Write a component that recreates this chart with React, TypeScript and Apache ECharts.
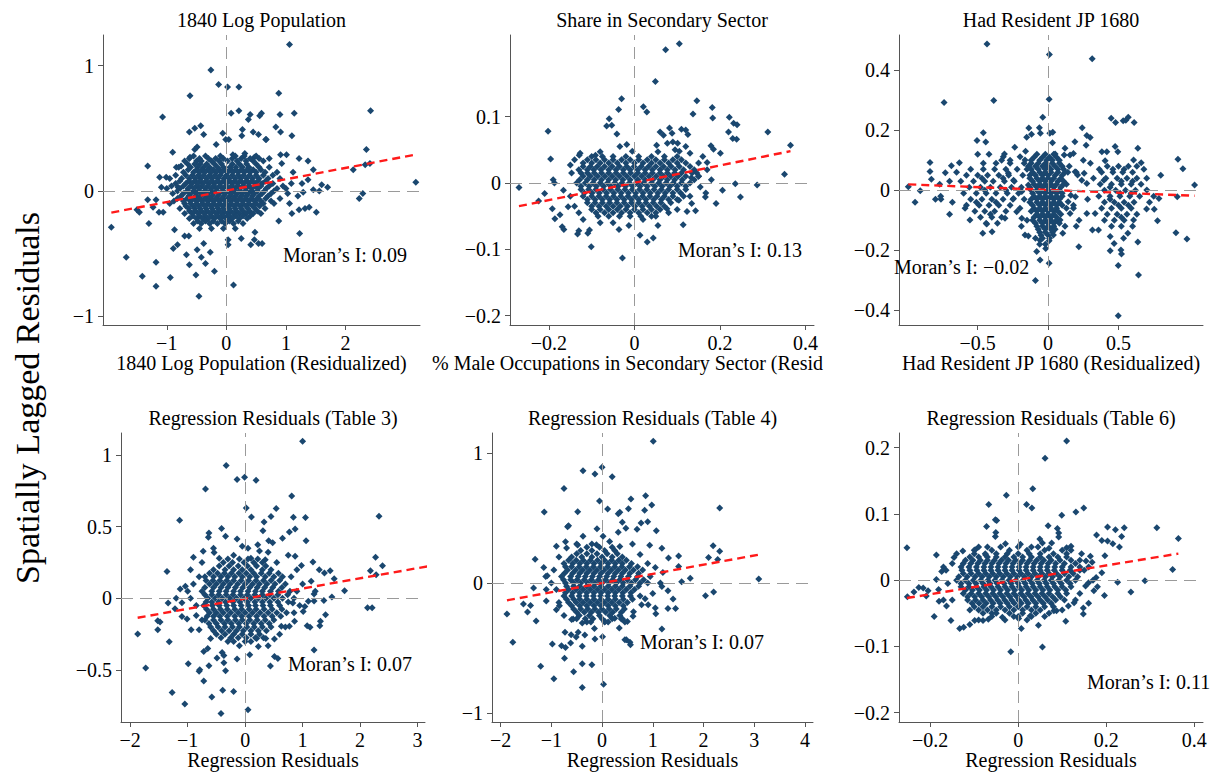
import React, { useEffect, useRef } from 'react';
import * as echarts from 'echarts';

type Pt = [number, number];
type Row = [number, number[]];

// ---------------- Panel 1: 1840 Log Population ----------------
const P1_OUT: Pt[] = [[1.06,1.17],[-0.26,0.965],[-0.13,0.85],[0.02,0.83],[0.21,0.83],[0.88,0.78],[-0.61,0.76],[2.42,0.64],[-1.07,0.59],[0.08,0.62],[0.21,0.64],[0.40,0.61],[0.56,0.60],[0.59,0.62],[0.90,0.61],[1.14,0.62],[0.37,0.57],[-0.43,0.52],[-0.53,0.50],[-0.62,0.47],[-0.06,0.46],[-0.38,0.45],[0.27,0.49],[0.26,0.44],[0.45,0.47],[0.83,0.51],[0.91,0.47],[1.10,0.44],[0.04,0.41],[0.67,0.41],[-0.90,0.31],[-1.32,0.20],[2.35,0.33],[2.13,0.17],[2.41,0.22],[2.33,0.21],[3.18,0.07],[1.70,0.03],[1.60,0.05],[1.46,0.01],[1.56,0.0],[1.37,0.24],[1.46,0.17],[1.22,0.26],[2.29,-0.02],[2.23,-0.06],[-1.93,-0.29],[-1.68,-0.53],[-1.41,-0.68],[-1.18,-0.57],[-1.18,-0.76],[-0.94,-0.69],[-0.46,-0.84],[-0.51,-0.67],[-0.20,-0.64],[0.12,-0.75],[-0.35,-0.58],[-0.62,-0.59],[-0.67,-0.51],[-0.89,-0.46],[-0.82,-0.43],[-0.49,-0.47],[-0.42,-0.53],[-0.27,-0.49],[-0.38,-0.42],[-0.70,-0.36],[-0.63,-0.36],[-0.87,-0.31],[-1.30,-0.26],[-1.46,-0.17],[-1.50,-0.15],[1.51,-0.17],[1.23,-0.34],[1.39,-0.13],[0.88,-0.24],[0.03,-0.39],[0.03,-0.43],[0.25,-0.38],[0.41,-0.43],[0.48,-0.33],[0.47,-0.39],[0.54,-0.42],[0.60,-0.42],[1.22,-0.15],[1.32,-0.14],[1.10,-0.18],[1.29,-0.01],[1.20,-0.04],[1.03,-0.02],[1.06,-0.10],[1.09,0.06],[1.27,0.06],[1.37,0.09],[1.12,0.15],[0.93,0.22],[1.01,0.29],[0.91,0.29],[0.72,0.26],[0.66,0.41],[0.54,0.45],[0.31,0.30],[0.47,0.27],[-1.12,0.11],[-1.01,0.11],[-1.09,0.03],[-1.13,-0.17],[-1.06,-0.17],[-0.81,0.03],[-0.84,0.19],[-0.76,0.20],[-0.61,0.27],[-0.53,0.33],[-0.49,0.35],[-0.17,0.37],[-0.01,0.41],[0.11,0.29],[-1.18,-0.07],[-1.32,-0.07],[-1.23,-0.13]];
const P1_CORE: Row[] = [
  [0.28, [-0.55,-0.35,-0.1,0.15,0.3,0.5]],
  [0.26, [-0.62,-0.45,-0.3,-0.18,-0.05,0.1,0.25,0.4,0.55]],
  [0.24, [-0.7,-0.5,-0.42,-0.25,-0.12,0.02,0.18,0.33,0.45,0.62]],
  [0.215, [-0.65,-0.53,-0.44,-0.33,-0.2,-0.08,0.1,0.22,0.34,0.5]],
  [0.19, [-0.8,-0.6,-0.48,-0.38,-0.28,-0.15,-0.05,0.06,0.16,0.27,0.38,0.55,0.72]],
  [0.17, [-0.64,-0.5,-0.41,-0.31,-0.22,-0.12,-0.02,0.08,0.16,0.25,0.35,0.45,0.58]],
  [0.15, [-0.72,-0.55,-0.45,-0.36,-0.26,-0.17,-0.08,0.02,0.11,0.2,0.3,0.4,0.5,0.65,0.85]],
  [0.125, [-0.85,-0.68,-0.57,-0.47,-0.38,-0.28,-0.19,-0.1,0.0,0.1,0.2,0.29,0.39,0.5,0.62,0.78]],
  [0.10, [-0.95,-0.75,-0.62,-0.52,-0.43,-0.33,-0.24,-0.14,-0.04,0.05,0.15,0.24,0.34,0.44,0.55,0.7,0.9]],
  [0.08, [-0.78,-0.63,-0.53,-0.44,-0.34,-0.25,-0.15,-0.05,0.05,0.14,0.24,0.34,0.43,0.53,0.66]],
  [0.06, [-0.85,-0.68,-0.58,-0.48,-0.39,-0.29,-0.2,-0.1,0.0,0.1,0.19,0.29,0.38,0.48,0.6,0.78]],
  [0.04, [-0.92,-0.72,-0.6,-0.5,-0.41,-0.31,-0.21,-0.11,-0.01,0.09,0.19,0.28,0.38,0.48,0.58,0.72,0.95]],
  [0.02, [-1.0,-0.78,-0.64,-0.54,-0.45,-0.35,-0.25,-0.16,-0.06,0.04,0.14,0.23,0.33,0.43,0.53,0.67,0.85,1.0]],
  [0.0, [-0.82,-0.66,-0.55,-0.46,-0.36,-0.27,-0.17,-0.07,0.03,0.13,0.22,0.32,0.42,0.52,0.64,0.8]],
  [-0.02, [-0.9,-0.72,-0.6,-0.5,-0.41,-0.31,-0.22,-0.12,-0.02,0.08,0.18,0.27,0.37,0.47,0.6,0.75]],
  [-0.04, [-0.76,-0.63,-0.52,-0.43,-0.33,-0.24,-0.14,-0.04,0.06,0.15,0.25,0.34,0.44,0.55,0.7]],
  [-0.06, [-0.82,-0.66,-0.55,-0.46,-0.36,-0.27,-0.17,-0.07,0.03,0.12,0.22,0.32,0.42,0.52,0.66,0.9]],
  [-0.08, [-0.88,-0.72,-0.6,-0.5,-0.41,-0.31,-0.22,-0.12,-0.02,0.07,0.17,0.27,0.37,0.47,0.58,0.75]],
  [-0.10, [-0.95,-0.7,-0.6,-0.5,-0.4,-0.31,-0.21,-0.11,-0.01,0.08,0.18,0.28,0.38,0.5,0.62,0.8]],
  [-0.12, [-0.68,-0.56,-0.46,-0.36,-0.26,-0.16,-0.06,0.04,0.13,0.23,0.33,0.44,0.56]],
  [-0.14, [-0.78,-0.63,-0.53,-0.44,-0.34,-0.24,-0.14,-0.05,0.05,0.15,0.25,0.36,0.48,0.65]],
  [-0.16, [-0.62,-0.52,-0.42,-0.32,-0.22,-0.12,-0.03,0.07,0.17,0.28,0.39,0.52]],
  [-0.18, [-0.7,-0.57,-0.47,-0.37,-0.27,-0.17,-0.08,0.02,0.12,0.22,0.33,0.45,0.58]],
  [-0.20, [-0.56,-0.45,-0.35,-0.25,-0.15,-0.05,0.05,0.16,0.28,0.4]],
  [-0.22, [-0.62,-0.5,-0.4,-0.3,-0.2,-0.1,0.0,0.1,0.22,0.35]],
  [-0.24, [-0.48,-0.35,-0.22,-0.08,0.05,0.2]],
  [-0.26, [-0.55,-0.42,-0.28,-0.15,-0.02,0.12,0.28]],
  [-0.30, [-0.45,-0.25,-0.05,0.15]],
];
const P1_FIT: Pt[] = [[-1.93,-0.173],[3.18,0.291]];
const P1_XTICKS = [-1, 0, 1, 2];
const P1_YTICKS = [-1, 0, 1];

// ---------------- Panel 2: Share in Secondary Sector ----------------
const P2_OUT: Pt[] = [[0.105,0.210],[0.073,0.201],[0.049,0.153],[-0.030,0.127],[-0.037,0.111],[0.021,0.115],[0.029,0.107],[0.146,0.124],[0.137,0.104],[0.182,0.114],[0.183,0.098],[0.222,0.099],[0.232,0.090],[0.240,0.088],[0.220,0.077],[0.230,0.067],[0.239,0.066],[0.312,0.077],[0.365,0.057],[0.351,0.013],[0.287,-0.003],[0.236,-0.001],[0.248,-0.021],[0.206,-0.011],[0.191,-0.031],[-0.202,0.078],[-0.196,0.036],[-0.270,-0.007],[-0.210,-0.016],[-0.224,-0.027],[-0.190,0.005],[-0.187,0.0],[-0.192,-0.039],[-0.186,-0.054],[-0.174,-0.048],[-0.169,-0.066],[-0.165,-0.070],[-0.133,-0.077],[-0.130,-0.072],[-0.109,-0.076],[-0.101,-0.096],[-0.105,-0.071],[-0.028,-0.113],[-0.036,-0.070],[-0.013,-0.064],[0.013,-0.079],[0.030,-0.089],[0.044,-0.083],[0.055,-0.064],[0.114,-0.063],[0.076,-0.039],[-0.065,0.086],[-0.053,0.087],[-0.041,0.074],[-0.059,0.097],[0.060,0.077],[0.068,0.072],[0.082,0.083],[0.088,0.075],[0.110,0.081],[0.120,0.080],[0.125,0.073],[0.101,0.060],[0.077,0.060],[0.133,0.008],[0.146,0.015],[0.170,0.031],[0.185,0.051],[0.179,0.056],[0.201,0.045],[0.154,-0.006],[0.167,-0.015],[0.134,-0.031],[0.143,-0.042],[0.123,-0.043],[0.104,-0.026],[0.166,-0.021],[-0.150,0.027],[-0.129,0.042],[-0.127,0.045],[-0.091,0.042],[-0.147,0.015],[-0.166,-0.011],[-0.155,-0.036],[-0.080,0.047],[-0.034,0.055],[-0.018,0.058],[-0.005,0.048],[0.055,0.047],[0.052,0.057],
  [0.13,0.045],[0.15,0.03],[0.16,0.04],[0.12,0.055],[0.095,0.05],[0.09,0.062],[0.105,0.048],[-0.14,0.035],[-0.15,-0.02],[-0.14,-0.035],[-0.13,-0.045],[-0.12,-0.055],[-0.08,-0.06],[-0.05,-0.06],[0.02,-0.055],[0.05,-0.05],[0.08,-0.045],[0.1,-0.04],[0.13,-0.02],[0.15,0.01],[0.17,0.02],[0.18,0.005]];
const P2_CORE: Row[] = [
  [0.040, [-0.10,-0.075,-0.05,-0.02,0.01,0.04,0.07,0.10]],
  [0.035, [-0.11,-0.09,-0.07,-0.05,-0.03,-0.01,0.01,0.03,0.05,0.07,0.09,0.11]],
  [0.030, [-0.12,-0.10,-0.08,-0.06,-0.04,-0.02,0.0,0.02,0.04,0.06,0.08,0.10,0.12]],
  [0.025, [-0.12,-0.103,-0.087,-0.07,-0.052,-0.035,-0.018,-0.001,0.016,0.033,0.05,0.068,0.086,0.105,0.13]],
  [0.020, [-0.13,-0.11,-0.095,-0.078,-0.06,-0.043,-0.026,-0.01,0.008,0.025,0.042,0.06,0.077,0.095,0.115,0.14]],
  [0.015, [-0.125,-0.11,-0.094,-0.077,-0.06,-0.043,-0.026,-0.009,0.008,0.025,0.042,0.06,0.077,0.094,0.11,0.135]],
  [0.010, [-0.12,-0.103,-0.086,-0.069,-0.052,-0.035,-0.018,0.0,0.017,0.034,0.051,0.068,0.085,0.102,0.12,0.15]],
  [0.005, [-0.128,-0.11,-0.094,-0.077,-0.06,-0.044,-0.027,-0.01,0.008,0.025,0.043,0.06,0.077,0.094,0.112,0.14]],
  [0.000, [-0.135,-0.115,-0.097,-0.08,-0.063,-0.046,-0.029,-0.012,0.005,0.022,0.04,0.057,0.074,0.091,0.11,0.13]],
  [-0.005, [-0.125,-0.106,-0.089,-0.072,-0.055,-0.038,-0.021,-0.004,0.013,0.03,0.048,0.065,0.083,0.1,0.12]],
  [-0.010, [-0.125,-0.107,-0.09,-0.073,-0.056,-0.039,-0.022,-0.005,0.012,0.029,0.046,0.063,0.08,0.1,0.12]],
  [-0.015, [-0.117,-0.099,-0.082,-0.065,-0.048,-0.031,-0.014,0.003,0.02,0.037,0.055,0.072,0.09,0.108]],
  [-0.020, [-0.12,-0.1,-0.083,-0.066,-0.049,-0.032,-0.015,0.002,0.019,0.036,0.053,0.07,0.09,0.115]],
  [-0.025, [-0.11,-0.092,-0.075,-0.058,-0.041,-0.024,-0.007,0.01,0.027,0.045,0.063,0.08,0.1]],
  [-0.030, [-0.11,-0.092,-0.075,-0.058,-0.041,-0.024,-0.007,0.01,0.027,0.044,0.062,0.085]],
  [-0.035, [-0.1,-0.083,-0.066,-0.05,-0.033,-0.016,0.001,0.018,0.035,0.052,0.07]],
  [-0.040, [-0.1,-0.08,-0.06,-0.04,-0.02,0.0,0.02,0.04,0.06]],
  [-0.045, [-0.09,-0.07,-0.05,-0.03,-0.01,0.01,0.03,0.05]],
  [-0.050, [-0.085,-0.06,-0.035,-0.01,0.015,0.04]],
];
const P2_FIT: Pt[] = [[-0.270,-0.035],[0.365,0.048]];
const P2_XTICKS = [-0.2, 0, 0.2, 0.4];
const P2_YTICKS = [-0.2, -0.1, 0, 0.1];

// ---------------- Panel 3: Had Resident JP 1680 ----------------
const P3_OUT: Pt[] = [[-0.434,0.488],[0.009,0.453],[0.313,0.439],[0.007,0.304],[-0.386,0.300],[-0.739,0.293],[-0.038,0.244],[0.448,0.240],[0.479,0.226],[0.533,0.232],[0.552,0.234],[0.569,0.244],[0.611,0.226],[0.242,0.209],[0.275,0.183],[0.299,0.176],[0.190,0.162],[-0.137,0.208],[-0.062,0.209],[-0.055,0.190],[0.012,0.190],[0.033,0.194],[-0.118,0.187],[-0.152,0.177],[0.031,0.159],[-0.460,0.192],[-0.505,0.166],[-0.443,0.161],[-0.237,0.144],[-0.310,0.121],[-0.318,0.112],[-0.839,0.093],[-0.839,0.063],[-0.829,0.037],[-0.730,0.059],[-0.687,0.082],[-0.630,0.092],[-0.993,0.012],[-0.908,-0.001],[-0.945,-0.040],[-0.763,-0.020],[-0.761,-0.030],[-0.555,-0.099],[-0.464,-0.143],[-0.398,-0.138],[-0.436,-0.112],[-0.590,-0.060],[0.922,0.104],[0.957,0.072],[1.040,0.018],[0.917,-0.021],[0.908,-0.141],[0.986,-0.162],[0.777,-0.101],[0.754,-0.063],[0.699,-0.062],[0.787,-0.027],[0.701,0.001],[0.661,0.092],[0.637,0.140],[0.607,0.101],[0.405,0.099],[0.382,0.129],[0.417,0.129],[0.476,0.146],[0.495,0.129],[0.642,-0.282],[0.498,-0.418],[0.498,-0.251],[0.517,-0.199],[0.521,-0.212],[0.441,-0.201],[0.441,-0.154],[0.469,-0.177],[0.536,-0.160],[0.566,-0.143],[0.637,-0.172],[0.607,-0.099],[0.358,-0.132],[0.218,-0.188],[0.275,-0.077],[0.334,-0.077],[0.315,-0.132],[-0.090,-0.301],[0.007,-0.243],[-0.057,-0.232],[-0.081,-0.204],[-0.017,-0.194],[0.007,-0.168],[-0.057,-0.166],[-0.164,-0.149],[-0.140,-0.152],[0.104,-0.143],[0.038,-0.149],[0.085,-0.099],[0.156,-0.077],[0.180,-0.060],[-0.187,-0.093],[-0.223,-0.071],[-0.306,-0.093],[-0.246,-0.027],[-0.246,0.034],[-0.282,0.057],[-0.270,0.090],[-0.199,0.112],[-0.164,0.101],[0.156,0.118],[0.180,0.123],[0.114,0.118],[0.050,0.121],[0.192,0.062],[0.256,0.057],[0.239,0.034],[0.209,0.051],[0.275,0.023],[0.322,0.040],[0.363,0.070],[0.396,0.034],[0.194,-0.021],[0.142,-0.038],[0.161,-0.016],[-0.140,0.018],[-0.187,-0.004],
  [0.15,0.08],[0.2,0.06],[0.25,0.1],[0.18,-0.05],[0.22,-0.1],[0.28,-0.03],[0.3,0.09],[0.13,0.02],[0.2,-0.12],[0.27,0.15],[-0.18,0.05],[-0.2,-0.06],[-0.17,0.09],[-0.19,-0.12],[-0.7,0.03],[-0.68,-0.04],[-0.65,0.06],[-0.7,-0.08],[0.7,0.04],[0.72,-0.04],[0.68,0.07],[0.75,-0.02],[0.8,0.05],[-0.8,-0.03],[-0.77,0.02],
  [-0.16,0.13],[0.12,0.14],[-0.15,-0.1],[0.12,-0.12],[-0.17,-0.03],[0.14,0.06],[-0.15,0.07],[0.13,-0.06]];
const P3_CORE: Row[] = [
  [0.12, [-0.08,-0.02,0.04, -0.5,-0.42]],
  [0.11, [-0.1,-0.04,0.01,0.06]],
  [0.10, [-0.12,-0.06,-0.01,0.03,0.08, -0.33,-0.27]],
  [0.09, [-0.12,-0.07,-0.02,0.03,0.08, -0.46,-0.37]],
  [0.08, [-0.14,-0.09,-0.04,0.0,0.05,0.1, 0.42,0.5,0.57,0.63]],
  [0.07, [-0.12,-0.07,-0.02,0.02,0.07,0.11, -0.55,-0.46,-0.38,-0.30,-0.22, 0.46,0.54]],
  [0.06, [-0.11,-0.06,-0.02,0.02,0.07,0.12, 0.38,0.46,0.53,0.60]],
  [0.05, [-0.13,-0.09,-0.04,0.0,0.05,0.1, -0.58,-0.50,-0.43,-0.35,-0.28]],
  [0.04, [-0.13,-0.08,-0.04,0.0,0.04,0.09, 0.41,0.49,0.56,0.63, -0.47,-0.32]],
  [0.03, [-0.11,-0.06,-0.02,0.02,0.07,0.11, -0.62,-0.53,-0.45,-0.39,-0.31,-0.24, 0.52,0.6]],
  [0.02, [-0.10,-0.06,-0.02,0.02,0.06,0.11, 0.37,0.45,0.52,0.59,0.66]],
  [0.01, [-0.13,-0.08,-0.04,0.0,0.04,0.09, -0.56,-0.48,-0.41,-0.34,-0.26,-0.19, 0.44]],
  [0.00, [-0.12,-0.08,-0.04,0.0,0.04,0.08, 0.40,0.48,0.55,0.62, -0.45,-0.3]],
  [-0.01, [-0.11,-0.06,-0.02,0.02,0.06,0.1, -0.60,-0.51,-0.44,-0.37,-0.29,-0.21, 0.51,0.59]],
  [-0.02, [-0.10,-0.06,-0.02,0.02,0.06,0.10, 0.36,0.44,0.51,0.58,0.65]],
  [-0.03, [-0.12,-0.08,-0.04,0.0,0.04,0.08, -0.55,-0.47,-0.40,-0.32,-0.25, 0.44]],
  [-0.04, [-0.13,-0.08,-0.04,0.0,0.04,0.08, 0.40,0.47,0.54,0.61, -0.51,-0.37]],
  [-0.05, [-0.11,-0.06,-0.02,0.02,0.06,0.1, -0.58,-0.49,-0.42,-0.35,-0.27, 0.5,0.57]],
  [-0.06, [-0.10,-0.06,-0.02,0.02,0.06, 0.38,0.45,0.52,0.59]],
  [-0.07, [-0.12,-0.08,-0.04,0.0,0.04,0.07, -0.52,-0.45,-0.38,-0.30]],
  [-0.08, [-0.08,-0.04,0.0,0.04,0.09, 0.42,0.49,0.56,0.63, -0.41]],
  [-0.09, [-0.1,-0.06,-0.02,0.02,0.06, -0.48,-0.40,-0.33, 0.52]],
  [-0.10, [-0.11,-0.06,-0.02,0.02,0.06, 0.40,0.47,0.54]],
  [-0.11, [-0.09,-0.04,0.0,0.04,0.08, -0.44,-0.36]],
  [-0.12, [-0.08,-0.04,0.0,0.04, 0.45,0.52,0.60]],
  [-0.13, [-0.07,-0.02,0.02,0.05]],
  [-0.14, [-0.06,-0.02,0.03]],
  [-0.15, [-0.05,0.0]],
  [-0.16, [-0.09,-0.04,0.01]],
  [-0.18, [-0.06,-0.02]],
];
const P3_FIT: Pt[] = [[-0.993,0.020],[1.04,-0.018]];
const P3_XTICKS = [-0.5, 0, 0.5];
const P3_YTICKS = [-0.4, -0.2, 0, 0.2, 0.4];

// ---------------- Panel 4: Regression Residuals (Table 3) ----------------
const P4_OUT: Pt[] = [[1.0,1.095],[-0.33,0.926],[-0.14,0.828],[-0.01,0.844],[0.19,0.823],[-0.69,0.763],[0.81,0.714],[2.33,0.572],[-1.14,0.544],[0.02,0.630],[0.54,0.626],[0.11,0.567],[0.45,0.570],[0.84,0.565],[1.05,0.563],[0.33,0.533],[0.31,0.472],[-0.41,0.488],[-0.34,0.433],[-0.63,0.456],[-0.64,0.426],[-0.14,0.414],[0.87,0.484],[0.77,0.463],[0.65,0.419],[0.41,0.402],[0.48,0.388],[1.06,0.402],[-0.05,0.363],[0.22,0.374],[-0.73,0.328],[-0.90,0.286],[-0.54,0.319],[0.87,0.293],[0.40,0.321],[-1.36,0.188],[1.18,0.253],[0.98,0.230],[1.29,0.200],[1.48,0.193],[1.38,0.177],[2.27,0.286],[2.18,0.193],[2.39,0.228],[2.28,0.165],[1.55,0.137],[1.73,0.053],[3.17,0.030],[1.51,0.009],[2.13,-0.065],[2.21,-0.065],[1.22,0.049],[1.37,-0.014],[1.20,-0.019],[1.40,-0.114],[1.08,-0.191],[1.13,-0.202],[1.30,-0.191],[1.31,-0.160],[1.20,-0.360],[-1.87,-0.249],[-1.73,-0.486],[-1.52,-0.219],[-1.52,-0.156],[-1.48,-0.165],[-1.32,-0.302],[-1.34,-0.033],[-1.13,0.065],[-1.04,0.084],[-1.22,-0.072],[-1.27,-0.656],[-1.05,-0.737],[-0.99,-0.456],[-0.80,-0.509],[-0.79,-0.498],[-0.72,-0.577],[-0.63,-0.470],[-0.58,-0.688],[-0.42,-0.802],[-0.39,-0.640],[-0.20,-0.649],[0.05,-0.777],[-0.40,-0.377],[-0.37,-0.398],[-0.49,-0.416],[-0.37,-0.449],[-0.34,-0.505],[-0.14,-0.423],[0.08,-0.393],[0.23,-0.335],[0.44,-0.472],[0.51,-0.405],[0.57,-0.419],[0.36,-0.279],[0.51,-0.284],[-0.72,-0.370],[-0.94,-0.219],[-0.80,-0.219],[-1.10,-0.126],[-1.01,-0.144],[0.63,-0.195],[0.77,-0.195],[0.86,-0.160],[1.01,-0.091],[1.04,-0.056],[0.83,-0.033],
  [-0.9,0.1],[-0.85,-0.05],[-0.95,0.0],[-0.8,0.15],[-0.75,-0.15],[-0.85,-0.12],[0.9,0.05],[0.95,-0.05],[0.8,0.15],[0.85,-0.1],[1.0,0.1],[0.9,0.2],[-0.45,0.28],[-0.2,0.3],[0.1,0.28],[0.35,0.27],[0.25,0.33],[-0.3,-0.3],[0.0,-0.3],[0.2,-0.28],[-0.6,-0.28],[0.6,-0.25],[-1.0,0.05],[-1.1,-0.03],[1.1,-0.02],[1.15,0.12],[-0.55,0.35],[0.05,0.35],[0.55,0.25],[0.7,-0.2],[-0.75,0.25],[-0.65,-0.35],[0.4,-0.33],[-0.1,-0.33],[1.2,0.03],[-1.2,0.0],[-0.95,0.2],[0.75,0.3]];
const P4_CORE: Row[] = [
  [0.275, [-0.3,-0.1,0.05,0.22]],
  [0.25, [-0.38,-0.22,-0.02,0.15,0.3]],
  [0.225, [-0.45,-0.28,-0.12,0.04,0.2,0.36]],
  [0.20, [-0.55,-0.35,-0.2,-0.05,0.1,0.3,0.45]],
  [0.175, [-0.62,-0.48,-0.36,-0.24,-0.11,0.02,0.15,0.28,0.42,0.58]],
  [0.15, [-0.7,-0.55,-0.42,-0.3,-0.18,-0.05,0.08,0.2,0.35,0.5,0.65]],
  [0.125, [-0.68,-0.56,-0.44,-0.32,-0.2,-0.07,0.06,0.19,0.32,0.45,0.6]],
  [0.10, [-0.62,-0.5,-0.38,-0.26,-0.13,0.0,0.13,0.25,0.38,0.52,0.7]],
  [0.075, [-0.7,-0.55,-0.42,-0.3,-0.17,-0.04,0.08,0.21,0.34,0.48,0.64]],
  [0.05, [-0.75,-0.58,-0.45,-0.33,-0.2,-0.08,0.05,0.18,0.3,0.44,0.58,0.78]],
  [0.025, [-0.7,-0.58,-0.46,-0.33,-0.21,-0.08,0.04,0.17,0.3,0.43,0.57,0.74]],
  [0.00, [-0.65,-0.52,-0.4,-0.27,-0.15,-0.02,0.1,0.23,0.36,0.5,0.65,0.85]],
  [-0.025, [-0.68,-0.58,-0.46,-0.34,-0.21,-0.09,0.04,0.17,0.3,0.43,0.57,0.75]],
  [-0.05, [-0.72,-0.57,-0.45,-0.32,-0.2,-0.07,0.06,0.18,0.31,0.44,0.6]],
  [-0.075, [-0.67,-0.55,-0.43,-0.31,-0.18,-0.06,0.07,0.19,0.33,0.47,0.64]],
  [-0.10, [-0.62,-0.5,-0.38,-0.25,-0.12,0.0,0.13,0.26,0.4,0.55,0.72]],
  [-0.125, [-0.66,-0.55,-0.44,-0.31,-0.18,-0.06,0.07,0.2,0.33,0.47,0.62]],
  [-0.15, [-0.7,-0.55,-0.42,-0.3,-0.17,-0.05,0.08,0.21,0.35,0.5]],
  [-0.175, [-0.63,-0.5,-0.36,-0.24,-0.11,0.02,0.15,0.28,0.42]],
  [-0.20, [-0.6,-0.47,-0.35,-0.22,-0.1,0.03,0.16,0.3,0.45]],
  [-0.225, [-0.55,-0.41,-0.28,-0.15,-0.03,0.1,0.23,0.37]],
  [-0.25, [-0.5,-0.35,-0.2,-0.05,0.1,0.25]],
  [-0.275, [-0.42,-0.25,-0.12,0.02,0.18,0.32]],
  [-0.30, [-0.2,0.1]],
];
const P4_FIT: Pt[] = [[-1.87,-0.135],[3.17,0.223]];
const P4_XTICKS = [-2, -1, 0, 1, 2, 3];
const P4_YTICKS = [-0.5, 0, 0.5, 1];

// ---------------- Panel 5: Regression Residuals (Table 4) ----------------
const P5_OUT: Pt[] = [[1.01,1.09],[-0.375,0.864],[0.0,0.890],[-0.14,0.838],[0.20,0.818],[-0.75,0.728],[-0.05,0.631],[0.57,0.646],[0.86,0.672],[0.98,0.600],[2.32,0.577],[-1.14,0.546],[-0.48,0.549],[0.11,0.569],[0.52,0.572],[0.84,0.559],[0.32,0.533],[0.35,0.544],[0.90,0.472],[0.77,0.462],[0.40,0.467],[-0.68,0.433],[-0.66,0.441],[-0.10,0.418],[0.47,0.421],[0.69,0.413],[1.07,0.403],[-0.375,0.359],[0.02,0.359],[0.32,0.390],[-0.72,0.318],[-0.90,0.282],[-0.48,0.292],[-0.11,0.295],[0.94,0.290],[1.18,0.267],[2.19,0.287],[2.32,0.244],[2.28,0.180],[2.10,0.197],[-1.32,0.182],[1.31,0.192],[1.51,0.208],[1.51,0.128],[1.74,0.036],[1.57,0.010],[3.09,0.031],[2.04,-0.097],[2.20,-0.069],[1.18,-0.026],[1.30,-0.059],[1.40,-0.123],[1.45,-0.195],[1.30,-0.195],[1.18,-0.354],[1.06,-0.236],[1.05,-0.192],[0.91,-0.167],[0.48,-0.436],[0.55,-0.456],[0.56,-0.474],[0.45,-0.436],[0.34,-0.346],[-1.875,-0.238],[-1.76,-0.456],[-1.55,-0.162],[-1.41,-0.172],[-1.47,-0.223],[-1.30,-0.292],[-1.35,-0.038],[-1.21,-0.641],[-0.95,-0.736],[-0.98,-0.469],[-0.80,-0.482],[-0.72,-0.495],[-0.62,-0.462],[-0.74,-0.579],[-0.56,-0.682],[-0.39,-0.621],[-0.39,-0.803],[-0.20,-0.628],[0.03,-0.779],[0.01,-0.413],[-0.14,-0.431],[-0.39,-0.487],[-0.34,-0.400],[-0.47,-0.379],[-0.51,-0.415],[-0.73,-0.379],[-0.61,-0.397],[-0.39,-0.308],[-0.90,-0.205],[-0.84,-0.174],[-1.10,-0.138],[-1.11,0.051],[-1.08,0.056],[-0.57,-0.277],[0.06,-0.295],[0.38,-0.277],[0.50,-0.295],[0.61,-0.256],[0.78,-0.167],
  [-0.95,0.1],[-0.9,-0.05],[-1.0,0.0],[-0.85,0.2],[-0.85,-0.15],[0.95,0.05],[1.0,-0.08],[0.9,0.15],[1.05,0.12],[0.85,-0.12],[-0.5,0.3],[-0.2,0.3],[0.15,0.32],[0.35,0.28],[-0.3,-0.3],[0.05,-0.3],[0.25,-0.27],[-0.6,-0.28],[0.62,-0.22],[-1.1,-0.05],[1.15,0.0],[-0.7,0.27],[0.6,0.3],[-0.15,-0.35],[0.45,-0.3],[1.2,0.08],[-1.15,0.12],[0.75,0.22],[-0.75,-0.25]];
const P5_CORE: Row[] = [
  [0.275, [-0.3,-0.05,0.2]],
  [0.25, [-0.42,-0.2,0.05,0.25]],
  [0.225, [-0.5,-0.3,-0.1,0.1,0.3]],
  [0.20, [-0.6,-0.4,-0.2,0.0,0.2,0.4]],
  [0.175, [-0.66,-0.51,-0.37,-0.23,-0.09,0.05,0.19,0.33,0.48]],
  [0.15, [-0.75,-0.58,-0.44,-0.3,-0.16,-0.02,0.12,0.26,0.4,0.58]],
  [0.125, [-0.72,-0.6,-0.45,-0.31,-0.17,-0.03,0.11,0.25,0.39,0.54,0.7]],
  [0.10, [-0.68,-0.52,-0.38,-0.24,-0.1,0.04,0.18,0.32,0.46,0.62,0.8]],
  [0.075, [-0.74,-0.58,-0.44,-0.3,-0.16,-0.02,0.12,0.26,0.4,0.55,0.72]],
  [0.05, [-0.8,-0.62,-0.47,-0.33,-0.19,-0.05,0.09,0.23,0.37,0.52,0.7]],
  [0.025, [-0.76,-0.62,-0.49,-0.35,-0.21,-0.07,0.07,0.21,0.35,0.5,0.66,0.82]],
  [0.00, [-0.72,-0.56,-0.42,-0.28,-0.14,0.0,0.14,0.28,0.42,0.58,0.75,0.9]],
  [-0.025, [-0.7,-0.56,-0.44,-0.3,-0.16,-0.02,0.12,0.26,0.4,0.55,0.72]],
  [-0.05, [-0.66,-0.51,-0.37,-0.23,-0.09,0.05,0.19,0.33,0.48,0.64]],
  [-0.075, [-0.72,-0.58,-0.44,-0.3,-0.16,-0.02,0.12,0.26,0.41,0.57]],
  [-0.10, [-0.75,-0.6,-0.45,-0.31,-0.17,-0.03,0.11,0.25,0.4,0.56,0.75]],
  [-0.125, [-0.7,-0.56,-0.44,-0.3,-0.16,-0.02,0.12,0.26,0.42,0.6]],
  [-0.15, [-0.66,-0.51,-0.37,-0.23,-0.09,0.05,0.19,0.34,0.5]],
  [-0.175, [-0.6,-0.44,-0.3,-0.16,-0.02,0.12,0.26,0.42]],
  [-0.20, [-0.56,-0.42,-0.28,-0.14,0.0,0.14,0.28,0.44]],
  [-0.225, [-0.5,-0.35,-0.21,-0.07,0.07,0.21,0.38]],
  [-0.25, [-0.45,-0.25,-0.05,0.15,0.35]],
  [-0.275, [-0.5,-0.33,-0.18,0.0,0.2,0.4]],
  [-0.30, [-0.22,0.12]],
];
const P5_FIT: Pt[] = [[-1.875,-0.133],[3.09,0.218]];
const P5_XTICKS = [-2, -1, 0, 1, 2, 3, 4];
const P5_YTICKS = [-1, 0, 1];

// ---------------- Panel 6: Regression Residuals (Table 6) ----------------
const P6_OUT: Pt[] = [[0.110,0.210],[0.061,0.184],[0.033,0.138],[-0.027,0.128],[-0.067,0.114],[0.019,0.114],[0.031,0.109],[0.149,0.109],[0.131,0.103],[0.099,0.098],[-0.052,0.091],[-0.049,0.090],[-0.072,0.081],[0.068,0.082],[0.089,0.078],[-0.051,0.072],[-0.052,0.066],[0.203,0.080],[0.221,0.076],[0.241,0.079],[0.315,0.079],[0.364,0.063],[0.235,0.066],[0.178,0.068],[0.190,0.060],[0.203,0.059],[0.215,0.055],[0.230,0.050],[-0.253,0.049],[-0.186,0.038],[-0.126,0.044],[-0.146,0.034],[0.351,0.016],[0.288,-0.001],[0.226,-0.003],[0.256,-0.018],[0.196,-0.023],[-0.237,-0.018],[-0.226,-0.011],[-0.216,-0.012],[-0.205,-0.016],[-0.209,-0.024],[-0.252,-0.025],[-0.191,-0.055],[-0.186,0.001],[-0.174,0.013],[-0.164,0.015],[-0.181,-0.014],[-0.180,-0.032],[-0.163,-0.039],[-0.153,-0.061],[-0.133,-0.073],[-0.124,-0.071],[-0.110,-0.067],[-0.099,-0.061],[-0.080,-0.061],[-0.068,-0.059],[-0.036,-0.056],[0.001,-0.058],[0.007,-0.073],[-0.017,-0.108],[0.055,-0.101],[0.046,-0.068],[0.027,-0.054],[0.108,-0.062],[0.087,-0.046],[0.081,-0.046],[0.148,-0.051],[0.148,-0.042],[0.114,-0.039],[0.127,-0.034],[0.153,-0.009],[0.172,-0.016],[0.160,-0.004],[0.177,0.004],[0.190,0.011],[0.154,0.029],[0.144,0.040],[0.110,0.049],[0.120,0.051],[0.092,0.071],[0.092,0.065],[0.049,0.062],[0.055,0.056],[0.076,0.056],[0.005,0.054],[-0.029,0.055],[-0.098,0.046],[-0.074,0.038],[0.164,0.036],[0.168,0.027],[0.197,0.037],
  [-0.15,0.025],[-0.16,-0.005],[-0.15,-0.03],[-0.14,0.04],[0.14,0.03],[0.15,0.015],[0.16,0.02],[0.14,-0.02],[0.13,-0.03],[0.12,0.045],[-0.09,0.05],[-0.04,0.05],[0.03,0.05],[0.07,0.048],[-0.06,-0.05],[0.07,-0.05],[0.1,-0.045],[-0.11,-0.045],[-0.17,-0.03],[-0.17,0.02],[0.17,0.0],[0.18,-0.01],[0.16,-0.035],[0.0,-0.055],[-0.03,-0.06]];
const P6_CORE: Row[] = [
  [0.050, [-0.07,0.0,0.045]],
  [0.045, [-0.1,-0.06,-0.02,0.02,0.06,0.1]],
  [0.040, [-0.10,-0.075,-0.05,-0.025,0.0,0.025,0.05,0.08,0.11]],
  [0.035, [-0.11,-0.09,-0.07,-0.05,-0.03,-0.01,0.01,0.03,0.05,0.07,0.09,0.11]],
  [0.030, [-0.12,-0.103,-0.086,-0.07,-0.054,-0.038,-0.022,-0.006,0.01,0.026,0.042,0.058,0.075,0.095,0.12]],
  [0.025, [-0.125,-0.108,-0.092,-0.076,-0.06,-0.044,-0.028,-0.012,0.004,0.02,0.036,0.052,0.068,0.085,0.105,0.13]],
  [0.020, [-0.13,-0.112,-0.095,-0.078,-0.062,-0.046,-0.03,-0.014,0.002,0.018,0.034,0.05,0.066,0.083,0.1,0.12,0.14]],
  [0.015, [-0.128,-0.11,-0.094,-0.078,-0.062,-0.046,-0.03,-0.014,0.002,0.018,0.034,0.05,0.066,0.082,0.1,0.118,0.14]],
  [0.010, [-0.125,-0.107,-0.09,-0.074,-0.058,-0.042,-0.026,-0.01,0.006,0.022,0.038,0.054,0.07,0.087,0.105,0.125]],
  [0.005, [-0.135,-0.116,-0.098,-0.082,-0.066,-0.05,-0.034,-0.018,-0.002,0.014,0.03,0.046,0.062,0.078,0.095,0.115,0.135]],
  [0.000, [-0.14,-0.12,-0.102,-0.085,-0.069,-0.053,-0.037,-0.021,-0.005,0.011,0.027,0.043,0.059,0.075,0.092,0.11,0.13]],
  [-0.005, [-0.13,-0.112,-0.096,-0.08,-0.064,-0.048,-0.032,-0.016,0.0,0.016,0.032,0.048,0.064,0.08,0.098,0.118]],
  [-0.010, [-0.13,-0.112,-0.095,-0.078,-0.062,-0.046,-0.03,-0.014,0.002,0.018,0.034,0.05,0.066,0.083,0.1,0.12]],
  [-0.015, [-0.12,-0.104,-0.088,-0.072,-0.056,-0.04,-0.024,-0.008,0.008,0.024,0.04,0.056,0.072,0.09,0.108]],
  [-0.020, [-0.125,-0.107,-0.09,-0.074,-0.058,-0.042,-0.026,-0.01,0.006,0.022,0.038,0.054,0.07,0.09,0.11]],
  [-0.025, [-0.115,-0.099,-0.083,-0.067,-0.051,-0.035,-0.019,-0.003,0.013,0.029,0.045,0.061,0.078,0.096]],
  [-0.030, [-0.115,-0.097,-0.08,-0.063,-0.047,-0.031,-0.015,0.001,0.017,0.033,0.05,0.067,0.085,0.105]],
  [-0.035, [-0.105,-0.089,-0.073,-0.057,-0.041,-0.025,-0.009,0.007,0.023,0.04,0.057,0.075]],
  [-0.040, [-0.1,-0.08,-0.06,-0.04,-0.02,0.0,0.02,0.04,0.06,0.08]],
  [-0.045, [-0.09,-0.07,-0.05,-0.03,-0.01,0.01,0.03,0.05]],
  [-0.050, [-0.08,-0.05,-0.02,0.01,0.04]],
  [-0.055, [-0.06,-0.01,0.03,0.06]],
  [-0.060, [-0.09,0.02]],
];
const P6_FIT: Pt[] = [[-0.253,-0.027],[0.364,0.040]];
const P6_XTICKS = [-0.2, 0, 0.2, 0.4];
const P6_YTICKS = [-0.2, -0.1, 0, 0.1, 0.2];

const TITLES = ['1840 Log Population', 'Share in Secondary Sector', 'Had Resident JP 1680', 'Regression Residuals (Table 3)', 'Regression Residuals (Table 4)', 'Regression Residuals (Table 6)'];
const X_TITLES = ['1840 Log Population (Residualized)', '% Male Occupations in Secondary Sector (Residualized)', 'Had Resident JP 1680 (Residualized)', 'Regression Residuals', 'Regression Residuals', 'Regression Residuals'];
const MORAN = ['Moran\u2019s I: 0.09', 'Moran\u2019s I: 0.13', 'Moran\u2019s I: \u22120.02', 'Moran\u2019s I: 0.07', 'Moran\u2019s I: 0.07', 'Moran\u2019s I: 0.11'];
const Y_TITLE = 'Spatially Lagged Residuals';

const rowsToPts = (rows: Row[]): Pt[] => rows.flatMap(([y, xs]) => xs.map((x) => [x, y] as Pt));

const FONT = '"Liberation Serif", "Times New Roman", serif';
const NAVY = '#1a476f';

// layout (pixels) per panel: grid box, axis ranges, text anchors
const LAYOUT = [
  { left: 103, top: 35, w: 317, h: 290, xr: [-2.07, 3.25], yr: [-1.07, 1.245], moran: [283, 255] },
  { left: 510, top: 35, w: 304, h: 290, xr: [-0.291, 0.42], yr: [-0.2142, 0.2232], moran: [678, 250] },
  { left: 899, top: 35, w: 304, h: 290, xr: [-1.059, 1.10], yr: [-0.449, 0.518], moran: [894, 267] },
  { left: 121, top: 433, w: 304, h: 289, xr: [-2.16, 3.13], yr: [-0.862, 1.153], moran: [288, 664] },
  { left: 492, top: 433, w: 321, h: 289, xr: [-2.17, 4.16], yr: [-1.069, 1.154], moran: [640, 642] },
  { left: 899, top: 433, w: 304, h: 289, xr: [-0.271, 0.42], yr: [-0.214, 0.222], moran: [1087, 682] },
];

const PANELS = [
  { pts: [...P1_OUT, ...rowsToPts(P1_CORE)], fit: P1_FIT, xt: P1_XTICKS, yt: P1_YTICKS },
  { pts: [...P2_OUT, ...rowsToPts(P2_CORE)], fit: P2_FIT, xt: P2_XTICKS, yt: P2_YTICKS },
  { pts: [...P3_OUT, ...rowsToPts(P3_CORE)], fit: P3_FIT, xt: P3_XTICKS, yt: P3_YTICKS },
  { pts: [...P4_OUT, ...rowsToPts(P4_CORE)], fit: P4_FIT, xt: P4_XTICKS, yt: P4_YTICKS },
  { pts: [...P5_OUT, ...rowsToPts(P5_CORE)], fit: P5_FIT, xt: P5_XTICKS, yt: P5_YTICKS },
  { pts: [...P6_OUT, ...rowsToPts(P6_CORE)], fit: P6_FIT, xt: P6_XTICKS, yt: P6_YTICKS },
];

const fmt = (v: number) => String(v).replace('-', '\u2212');

function txt(text: string, x: number, y: number, align: string, size = 20, extra: any = {}) {
  return {
    type: 'text',
    x,
    y,
    z: 100,
    ...extra,
    style: {
      text,
      font: `${size}px ${FONT}`,
      fill: '#000',
      align,
      verticalAlign: 'middle',
      textAlign: align,
      textVerticalAlign: 'middle',
      ...(extra.style || {}),
    },
  };
}

function buildOption() {
  const grid: any[] = [];
  const xAxis: any[] = [];
  const yAxis: any[] = [];
  const series: any[] = [];
  const graphic: any[] = [];
  const axisCommon = {
    type: 'value',
    splitLine: { show: false },
    axisLine: { show: true, onZero: false, lineStyle: { color: '#555', width: 1 } },
  };
  PANELS.forEach((p, i) => {
    const L = LAYOUT[i];
    grid.push({ left: L.left, top: L.top, width: L.w, height: L.h, containLabel: false });
    xAxis.push({
      ...axisCommon,
      gridIndex: i,
      min: L.xr[0],
      max: L.xr[1],
      axisTick: { show: true, inside: false, length: 5, lineStyle: { color: '#555' }, customValues: p.xt },
      axisLabel: { customValues: p.xt, formatter: fmt, color: '#000', fontSize: 20, fontFamily: FONT, margin: 8, lineHeight: 20 },
    });
    yAxis.push({
      ...axisCommon,
      gridIndex: i,
      min: L.yr[0],
      max: L.yr[1],
      axisTick: { show: true, inside: false, length: 5, lineStyle: { color: '#555' }, customValues: p.yt },
      axisLabel: { customValues: p.yt, formatter: fmt, color: '#000', fontSize: 20, fontFamily: FONT, margin: 9 },
    });
    series.push({
      type: 'line',
      xAxisIndex: i,
      yAxisIndex: i,
      data: [],
      z: 1,
      silent: true,
      markLine: {
        silent: true,
        symbol: ['none', 'none'],
        label: { show: false },
        lineStyle: { color: '#9a9a9a', width: 1, type: [12, 7] },
        data: [{ xAxis: 0 }, { yAxis: 0 }],
      },
    });
    series.push({
      type: 'scatter',
      xAxisIndex: i,
      yAxisIndex: i,
      data: p.pts,
      symbol: 'diamond',
      symbolSize: 7,
      itemStyle: { color: NAVY, opacity: 1 },
      z: 2,
    });
    series.push({
      type: 'line',
      xAxisIndex: i,
      yAxisIndex: i,
      data: p.fit,
      showSymbol: false,
      symbol: 'none',
      lineStyle: { color: '#ff1a1a', width: 2.4, type: [8, 5] },
      z: 3,
      silent: true,
    });
    const cx = L.left + L.w / 2;
    graphic.push(txt(TITLES[i], cx, L.top - 15, 'center'));
    graphic.push(txt(MORAN[i], L.moran[0], L.moran[1], 'left'));
    const xtY = L.top + L.h + 38;
    if (i === 1) {
      graphic.push(txt(X_TITLES[i], 432, xtY, 'left', 20, { style: { width: 398, overflow: 'truncate', ellipsis: '' } }));
    } else {
      graphic.push(txt(X_TITLES[i], cx, xtY, 'center'));
    }
  });
  graphic.push(txt(Y_TITLE, 27, 398, 'center', 34, { rotation: Math.PI / 2 }));
  return {
    animation: false,
    backgroundColor: '#ffffff',
    grid,
    xAxis,
    yAxis,
    series,
    graphic,
  };
}

export default function App() {
  const ref = useRef<HTMLDivElement>(null);
  useEffect(() => {
    if (!ref.current) return;
    const chart = echarts.init(ref.current, undefined, { renderer: 'svg' });
    chart.setOption(buildOption() as any);
    return () => chart.dispose();
  }, []);
  return <div ref={ref} style={{ position: 'absolute', left: 0, top: 0, width: 1217, height: 772, background: '#fff' }} />;
}
